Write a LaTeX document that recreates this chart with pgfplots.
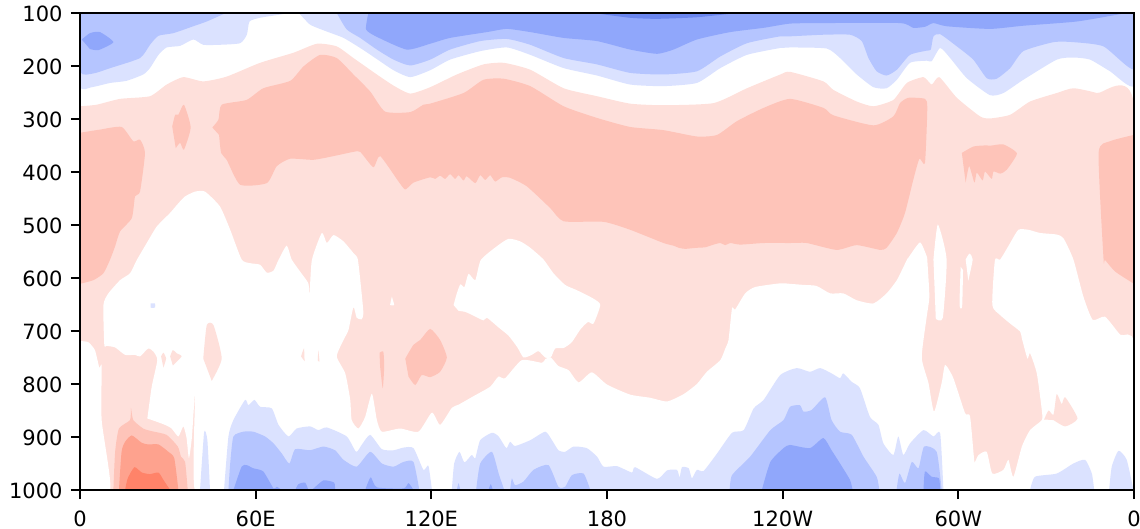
\documentclass[border=0pt]{standalone}
\usepackage{fontspec}
\setmainfont{DejaVu Sans}
\usepackage{pgfplots}
\pgfplotsset{compat=1.18}

\definecolor{b1}{HTML}{DBE2FF}
\definecolor{b2}{HTML}{B5C5FF}
\definecolor{b3}{HTML}{90A7FB}
\definecolor{b4}{HTML}{6A86EE}
\definecolor{r1}{HTML}{FEE0DB}
\definecolor{r2}{HTML}{FEC4B9}
\definecolor{r3}{HTML}{FEA28E}
\definecolor{r4}{HTML}{FF8369}

\pgfplotsset{lay/.style={fill=#1,draw=none,mark=none,smooth,tension=0.35}}

\begin{document}
\begin{tikzpicture}
\path[use as bounding box] (-40pt,-19.5pt) rectangle (530pt,245pt);
\begin{axis}[
at={(0,0)},anchor=south west,
scale only axis,
width=527pt,height=238.5pt,
xmin=0,xmax=360,
ymin=100,ymax=1000,
y dir=reverse,
axis on top,
xtick={0,60,120,180,240,300,360},
xticklabels={0,60E,120E,180,120W,60W,0},
ytick={100,200,300,400,500,600,700,800,900,1000},
xtick pos=bottom,ytick pos=left,
tick align=outside,
major tick length=4.6pt,
every tick/.style={black,line width=1pt},
axis line style={line width=1pt},
tick label style={font=\fontsize{10.5}{12}\selectfont},
xticklabel style={yshift=-2.3pt},
yticklabel style={xshift=-0.6pt,yshift=-0.4pt},
/pgf/number format/assume math mode=true,
/pgf/number format/1000 sep={},
]
% weakest warm layer, from its upper edge down to the surface
\addplot[lay=r1] coordinates {(0,276)(5.7,273)(13.7,262)(23.9,257)(29.6,235)(35.3,221)(42.1,229)(50.1,220)(61.5,194)(72.9,175)(80.9,158)(87.7,163)(93.4,185)(101.4,216)(107.1,237)(112.8,252)(119.6,240)(128.7,216)(137.8,197)(144.7,194)(153.8,207)(165.2,242)(176.6,257)(187.9,271)(199.3,274)(216.4,270)(227.8,242)(239.2,216)(242.5,211)(253.9,229)(257.3,245)(265.3,267)(271,276)(277.8,264)(282.4,232)(288.1,221)(290.9,235)(293.5,221)(299.5,260)(307.4,295)(310.8,299)(317.7,292)(324.5,267)(333.6,251)(339.3,242)(347.3,251)(360,275)(360,990)(360,1000)(0,1000)};

% white holes in it
\addplot[lay=white] coordinates {(0,719)(2.8,721)(5.1,736)(6.6,769)(7.4,766)(7.4,868)(10.3,1000)(0,1000)};
\addplot[lay=white] coordinates {(23,865)(24.5,805)(26.4,755)(25.1,739)(23.3,733)(20.5,748)(18.8,745)(15.4,745)(12,731)(9.1,728)(8.3,726)(8,651)(9.7,629)(13.7,604)(17.1,591)(19.4,566)(22.8,534)(26.2,503)(30.8,477)(33.6,459)(35.9,446)(39.3,437)(42.7,437)(47.8,465)(51.3,509)(55.2,565)(58.1,572)(61.5,575)(63.8,590)(66.1,586)(67.8,566)(70.6,539)(72.3,565)(75.2,588)(78,610)(78.4,632)(79.2,566)(82.6,515)(84.3,534)(86.6,519)(90,531)(93.4,553)(94.9,565)(96.2,629)(96.8,667)(96.2,678)(94.5,675)(93.4,655)(91.7,698)(90,717)(87.7,748)(90.6,780)(92.3,830)(92.8,868)(95.1,884)(97.4,862)(99.7,818)(101.4,868)(103.1,890)(109.3,884)(115.6,890)(120.2,854)(123,877)(127,845)(129.3,839)(134.4,823)(140.1,805)(142.9,786)(145.2,789)(150.9,755)(157.8,760)(158.9,753)(160.8,750)(163.4,766)(166.9,774)(170.3,797)(174.8,778)(180,801)(187.9,820)(194.8,826)(200.5,833)(206.2,819)(210.7,800)(214.1,777)(218.7,755)(220.4,733)(221.5,717)(222.7,657)(223.8,659)(227.2,629)(230.6,617)(239.2,610)(242.5,611)(247.1,613)(251.6,615)(256.2,629)(260.7,629)(265.3,642)(271,648)(275.5,629)(279,604)(282.4,566)(282.9,562)(286.9,533)(289.2,559)(289.4,566)(290.1,635)(289.2,673)(287.5,750)(289.8,798)(291.7,852)(294.3,798)(295.5,764)(298.3,789)(302.3,855)(304,861)(305.4,943)(305.7,947)(306.9,934)(309.7,928)(311.6,969)(315.4,962)(317.1,943)(318.8,975)(321.7,918)(324.5,887)(328.5,868)(328.5,849)(326.8,780)(324.5,742)(323.6,752)(321.7,714)(321.1,701)(317.7,686)(314.3,670)(311.6,651)(312.5,566)(314.3,565)(317.7,534)(320.5,509)(323.9,509)(327.9,515)(333.6,518)(335.9,525)(339.3,565)(342.7,635)(345.9,679)(350.1,673)(355.3,707)(360,723)(360,990)(360,1000)(350,1000)(50,1000)(39.2,1000)(39.3,821)(38.2,902)(37.2,940)(36.4,902)(35.3,880)(33.6,899)(31.3,884)(29,877)(25.6,870)};
\addplot[lay=white] coordinates {(127.6,651)(128.7,629)(129.9,612)(131.3,617)(132.7,592)(135,604)(136.9,566)(142.4,540)(146.4,526)(150.4,531)(153.8,543)(158.3,565)(161.7,591)(165.7,613)(169.7,623)(175.4,639)(177.7,651)(175.4,686)(173.5,683)(170.9,697)(168,721)(165.2,732)(162.3,733)(160.8,750)(158.9,750)(156.6,738)(154.3,745)(151.5,750)(149.4,731)(146.4,709)(142.9,693)(139,675)(137.8,680)(134.4,671)(131.6,664)(129.3,662)};
\addplot[lay=white] coordinates {(291.5,565)(293,499)(296,565)(294.7,675)(292.3,677)};
\addplot[lay=white] coordinates {(300.8,579)(300.4,651)(301.3,654)(301.6,585)};
\addplot[lay=white] coordinates {(302.5,565)(303.8,554)(304.9,565)(303.4,605)};
\addplot[lay=white] coordinates {(106.5,635)(107.3,651)(105.9,651)};

% small warm patches inside the white
\addplot[lay=r1] coordinates {(42.1,752)(43.3,689)(45.6,689)(48.4,752)(45,794)};
\addplot[lay=r1] coordinates {(27.7,748)(28.5,741)(29.4,752)(28.5,769)};
\addplot[lay=r1] coordinates {(30.8,748)(31.7,736)(33,742)(34.7,748)(31.7,765)};
\addplot[lay=r1] coordinates {(75.5,748)(76.5,733)(76.7,757)};
\addplot[lay=r1] coordinates {(81.4,736)(81.8,758)(81.2,755)};
\addplot[lay=r1] coordinates {(329.3,867)(330.8,850)(332.5,858)(333.6,819)(335.3,838)(336.5,825)(340.7,865)(336.5,880)(332.5,868)};
\addplot[lay=b1] coordinates {(24.1,648)(25.6,648)(25.6,656)(24.1,656)};

% upper cold bands
\addplot[lay=b1] coordinates {(0,100)(0,237)(4,240)(10.3,232)(15.9,228)(21.6,216)(23.9,204)(26.8,179)(29.6,165)(34.2,162)(38.7,150)(42.1,160)(47.8,160)(54.7,157)(57,141)(57.9,116)(61.5,109)(67.2,104)(71.8,100)(74.6,100)(78.6,122)(84.3,135)(90,147)(95.7,166)(101.4,187)(107.1,208)(112.8,221)(119.6,208)(126.4,188)(136.7,172)(145.8,165)(153.8,179)(165.2,204)(176.6,218)(187.9,235)(199.3,238)(210.7,232)(218.7,204)(227.8,179)(239.2,166)(242.5,165)(255,167)(259.6,185)(265.3,216)(271,240)(275.5,242)(279,226)(283.5,194)(289.2,190)(290.9,191)(293.8,166)(297.2,185)(302.9,223)(310.8,255)(315.4,251)(322.2,226)(333.6,188)(339.3,184)(345,188)(351.8,210)(360,237)(360,100)};
\addplot[lay=b2] coordinates {(0,100)(0,210)(4.6,214)(10.3,204)(20.5,185)(23.9,160)(26.8,143)(31.9,138)(38.7,125)(43.3,116)(49,102)(49.5,100)};
\addplot[lay=b2] coordinates {(87.7,100)(91.1,131)(95.7,147)(101.4,169)(107.1,188)(112.8,199)(119.6,188)(126.4,169)(136.7,153)(145.8,149)(153.8,160)(165.2,185)(176.6,197)(187.9,213)(199.3,216)(210.7,210)(218.7,182)(227.8,157)(239.2,144)(242.5,144)(253.9,141)(263,141)(267,153)(269.3,185)(272.1,210)(275.5,218)(279,207)(283.5,179)(289.2,171)(290.6,169)(291.5,144)(293.8,140)(299.5,163)(305.1,188)(309.7,223)(313.1,224)(317.7,204)(322.2,172)(332.5,155)(339.3,155)(349.6,163)(360,206)(360,100)};
\addplot[lay=b3] coordinates {(98.5,100)(97.7,131)(101.4,145)(111.6,169)(119.6,158)(126.4,147)(139,136)(145.8,130)(153.8,136)(165.2,147)(176.6,153)(187.9,169)(197.1,177)(202.7,169)(210.7,150)(222.1,136)(233.5,128)(242.5,120)(253.9,119)(280.1,119)(284.6,128)(288.6,126)(291.5,119)(296,125)(310.8,130)(322.2,124)(340.5,116)(356.4,101)(357,100)};
\addplot[lay=b3] coordinates {(0.6,150)(3.4,138)(6.8,136)(11.4,155)(6.3,170)(3.4,168)};
\addplot[lay=b4] coordinates {(175.4,100)(187.9,109)(197.1,111)(210.7,108)(224.4,100)};

% stronger warm layer
\addplot[lay=r2] coordinates {(45.2,316)(47.3,301)(48.4,273)(56.9,264)(62.6,242)(71.8,228)(76.3,201)(82,179)(87.7,185)(93.4,216)(99.1,248)(104.2,286)(112.8,287)(117.3,273)(119.6,271)(131,251)(137.8,226)(144.7,224)(153.8,238)(165.2,276)(176.6,298)(187.9,315)(199.3,321)(210.7,333)(217.6,330)(224.4,304)(233.5,279)(242.5,262)(253.9,279)(257.3,293)(271,312)(277.8,295)(280.1,270)(282.9,260)(288.6,262)(289.4,279)(288.6,383)(286.7,375)(284.6,415)(281.8,477)(279,515)(275.5,543)(273.3,547)(265.3,538)(258.4,547)(248.2,534)(242.5,534)(233.5,534)(225.5,537)(222.1,534)(220.4,538)(218.7,534)(216.4,537)(213.6,542)(210.7,543)(206.7,545)(204.5,543)(202.7,539)(199.3,534)(187.9,509)(178.8,494)(165.2,493)(160.6,468)(152.6,427)(146.9,411)(144.1,410)(141.8,418)(140.1,406)(138.4,415)(136.7,406)(135,421)(132.1,408)(131,416)(129.3,406)(128.1,413)(126.4,404)(124.7,413)(123,407)(121.3,413)(119.6,410)(113.9,420)(111.1,433)(108.8,418)(102.5,370)(100.2,391)(95.7,362)(93.4,362)(86.6,370)(79.7,377)(71.8,375)(67.2,389)(63.8,421)(54.7,424)(50.1,377)(48.2,364)(47.5,330)};
\addplot[lay=r2] coordinates {(0,326)(6.8,320)(14.2,315)(18.2,342)(20.5,339)(22.2,364)(20.5,437)(18.8,446)(17.7,487)(13.7,512)(12,540)(10.3,565)(8,591)(4.6,604)(0,611)};
\addplot[lay=r2] coordinates {(360,330)(351.8,342)(347.9,364)(349.6,565)(350.1,566)(353.6,588)(360,611)};
\addplot[lay=r2] coordinates {(31.5,314)(32.5,292)(33.6,292)(35.5,273)(37.8,316)(35.5,358)(34.2,345)(32.7,355)};
\addplot[lay=r2] coordinates {(301.2,364)(305.1,352)(308.6,350)(311.4,350)(315.4,348)(320,365)(316.5,396)(314.3,403)(312,399)(311.4,413)(309.1,399)(308.3,416)(306.3,401)(305.5,420)(303.7,389)(302.5,420)};
\addplot[lay=r2] coordinates {(111.1,752)(113.9,726)(116.2,717)(119.6,696)(123,717)(125.3,750)(123,777)(119.6,787)(116.7,783)(114.5,802)(112.2,786)};
\addplot[lay=r2] coordinates {(102.3,741)(103.6,739)(103.9,767)(103.4,808)(102.5,767)};

% warm core near the surface
\addplot[lay=r2] coordinates {(11.4,1000)(12,928)(13.3,884)(17.1,868)(17.4,845)(18.2,868)(21.6,884)(24.5,889)(29.6,896)(33.4,918)(34.5,937)(35.9,947)(36.8,1000)};
\addplot[lay=r3] coordinates {(13.3,1000)(14.2,928)(15.4,909)(17.7,897)(21.1,911)(23.3,914)(26.8,914)(30.2,928)(32.2,940)(33.6,1000)};
\addplot[lay=r4] coordinates {(15.4,1000)(16.3,978)(18.6,957)(21.1,967)(23.9,970)(26.8,967)(28.5,981)(30.8,1000)};

% cold layers near the surface
\addplot[lay=b1] coordinates {(41,1000)(42.4,891)(43.5,906)(44.4,1000)};
\addplot[lay=b1] coordinates {(49.2,1000)(50.7,899)(52.4,868)(56.4,830)(57.5,840)(59.6,830)(61.5,843)(65.5,846)(67.8,877)(71.2,899)(74,884)(78.6,880)(81.4,887)(84.3,882)(91.1,899)(94.3,928)(96.2,915)(99.1,896)(103.1,923)(107.1,925)(110.5,920)(113.9,921)(117.3,962)(119,954)(120.2,1000)};
\addplot[lay=b1] coordinates {(127,1000)(127.8,950)(129.6,928)(131.3,948)(133.8,934)(135,940)(136.7,906)(140.7,892)(143,899)(145.6,921)(146.9,909)(148.6,917)(153.8,906)(158.9,890)(161.2,906)(163.4,925)(165.7,928)(168.6,918)(173.1,921)(176.6,937)(178.8,956)(183.4,955)(188.5,967)(189.6,957)(197.1,979)(200.5,963)(203.9,962)(204.8,976)(205.6,957)(207.9,959)(209,978)(210.7,962)(213,964)(217.6,931)(222.7,892)(226.7,887)(230.1,846)(233.5,830)(239.2,783)(244.8,770)(249.3,777)(252.8,770)(256.7,780)(259.6,789)(260.7,780)(263.6,796)(266.4,808)(269.8,862)(272.7,877)(274.4,912)(277.8,934)(279.5,899)(281.2,934)(283.5,912)(288.1,887)(291.5,899)(293.8,893)(294.9,1000)};
\addplot[lay=b1] coordinates {(324.5,1000)(326.2,975)(333.6,969)(339.3,950)(343.3,943)(345.6,969)(346.4,1000)};
\addplot[lay=b1] coordinates {(351.5,1000)(352.4,956)(354.7,926)(357.5,943)(359.8,1000)};
\addplot[lay=b2] coordinates {(50.7,1000)(51.3,950)(52.4,899)(55.8,890)(59.2,890)(63.2,899)(66.1,912)(68.9,931)(71.5,950)(73.5,923)(78.6,925)(83.1,918)(87.1,925)(90,943)(94.5,956)(99.1,928)(103.1,950)(107.1,956)(110.5,947)(113.9,947)(115.9,1000)};
\addplot[lay=b2] coordinates {(128.7,1000)(129.3,987)(129.9,1000)};
\addplot[lay=b2] coordinates {(135.3,1000)(136.7,950)(140.7,928)(143,969)(144.9,1000)};
\addplot[lay=b2] coordinates {(146.9,1000)(147.5,978)(148.6,991)(151.5,984)(154.9,962)(160,953)(163.4,994)(165.7,994)(168,972)(172,969)(174.3,1000)};
\addplot[lay=b2] coordinates {(221.9,1000)(222.7,972)(228.9,937)(235.8,887)(240.3,868)(242.5,843)(245.9,840)(247.1,852)(249.9,849)(254.5,825)(256.7,868)(259.6,890)(263.6,896)(267.6,937)(272.1,975)(273,1000)};
\addplot[lay=b2] coordinates {(278.9,1000)(279.9,969)(281.8,987)(284.1,947)(286.4,959)(288.3,918)(292.6,928)(294.3,1000)};
\addplot[lay=b3] coordinates {(52.4,1000)(55.2,956)(56.9,953)(59.2,959)(62.6,965)(66.1,997)(67.2,994)(68.9,1000)};
\addplot[lay=b3] coordinates {(73.5,1000)(74.6,989)(76.9,986)(78,1000)};
\addplot[lay=b3] coordinates {(79.2,1000)(83.1,982)(86.8,986)(87.1,1000)};
\addplot[lay=b3] coordinates {(97.4,1000)(99.3,976)(101.4,995)(110.5,997)(112.2,987)(113.9,1000)};
\addplot[lay=b3] coordinates {(139.5,1000)(140.3,989)(141,1000)};
\addplot[lay=b3] coordinates {(232.9,1000)(235.8,947)(240.3,921)(242.5,915)(249.3,921)(253.9,902)(256.7,925)(259.6,950)(263,981)(263.9,1000)};
\addplot[lay=b3] coordinates {(288.1,1000)(288.6,965)(290.9,975)(293.4,978)(293.8,1000)};
\end{axis}
\end{tikzpicture}
\end{document}
